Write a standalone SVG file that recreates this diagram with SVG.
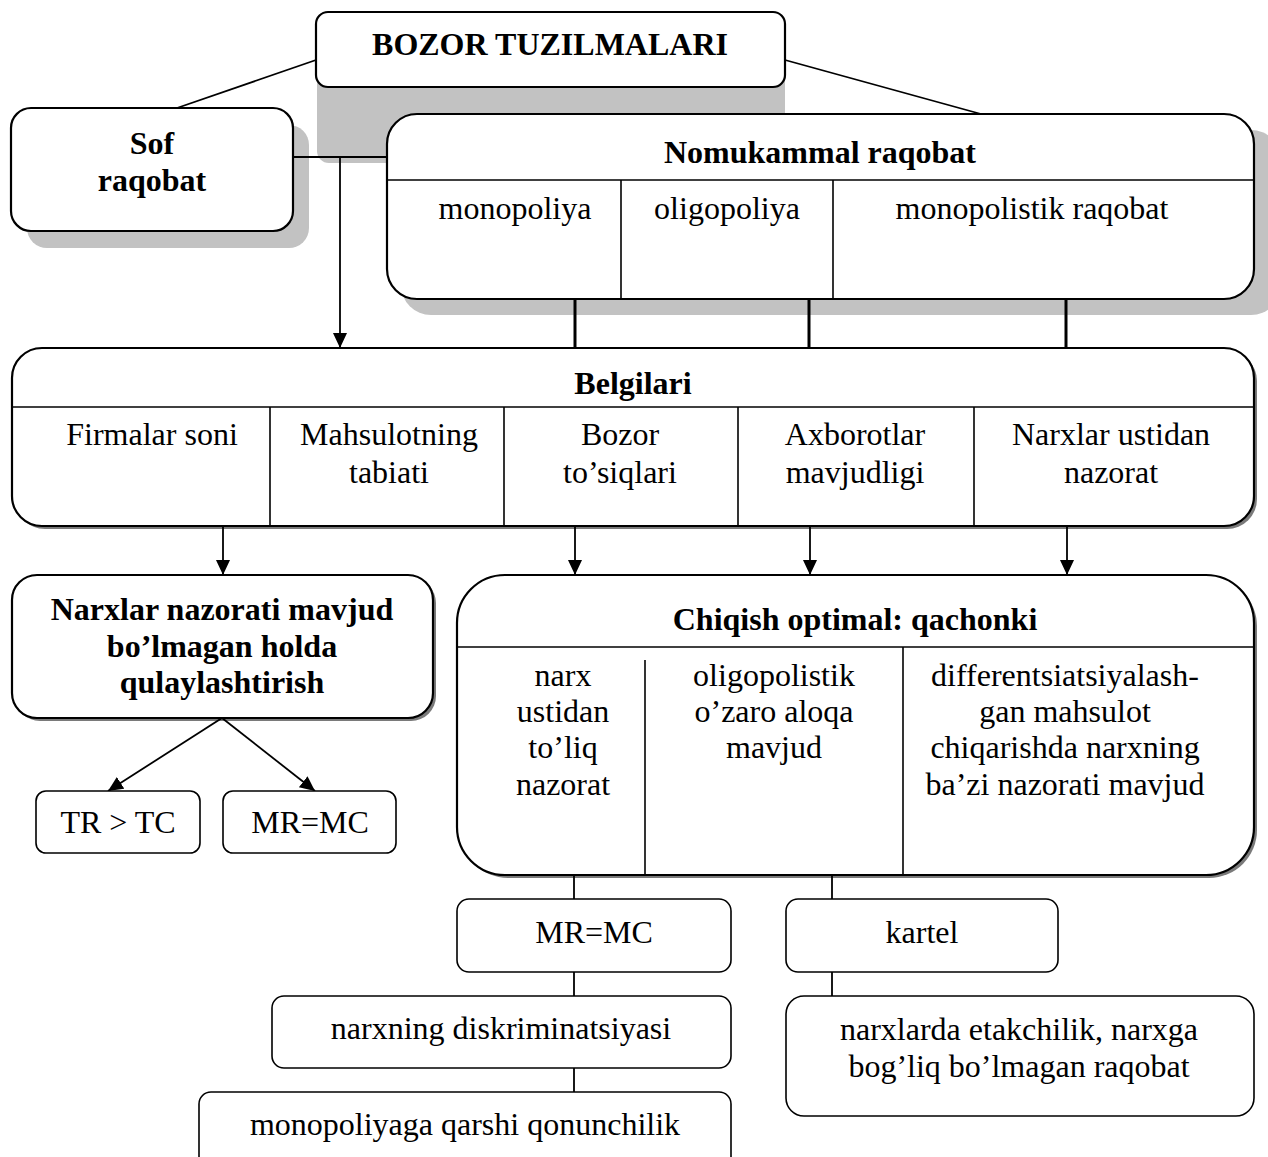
<svg xmlns="http://www.w3.org/2000/svg" width="1268" height="1157" viewBox="0 0 1268 1157">
<style>
text{font-family:"Liberation Serif","Times New Roman",serif;font-size:32px;fill:#000;text-anchor:middle}
.b{font-weight:bold}
.box{fill:#fff;stroke:#000;stroke-width:2.2}
.sbox{fill:#fff;stroke:#000;stroke-width:1.6}
.div{stroke:#000;stroke-width:1.6;fill:none}
.sh{fill:#c2c2c2}
.dsh{fill:#7a7a7a}
.ln{stroke:#000;stroke-width:1.8;fill:none}
.thk{stroke:#000;stroke-width:3;fill:none}
</style>
<defs>
<marker id="ah" markerUnits="userSpaceOnUse" markerWidth="16" markerHeight="16" refX="15" refY="7" orient="auto">
<path d="M0,0 L15,7 L0,14 z" fill="#000"/>
</marker>
</defs>

<!-- shadows -->
<g id="shadows">
<rect class="sh" x="317" y="60" width="468" height="103" rx="12"/>
<rect class="sh" x="27" y="125" width="282" height="123" rx="20"/>
<rect class="sh" x="401" y="130" width="880" height="185" rx="30"/>
<rect class="dsh" x="15" y="351" width="1242" height="178" rx="30"/>
<rect class="dsh" x="15" y="578" width="421" height="143" rx="25"/>
<rect class="dsh" x="460" y="578" width="797" height="300" rx="48"/>
</g>

<g id="connectors">
<line class="ln" x1="316" y1="60" x2="177" y2="108"/>
<line class="ln" x1="785" y1="60" x2="981" y2="114"/>
<line class="ln" x1="293" y1="157" x2="387" y2="157"/>
<line class="ln" x1="340" y1="157" x2="340" y2="348" marker-end="url(#ah)"/>
<line class="thk" x1="575" y1="299" x2="575" y2="348"/>
<line class="thk" x1="809" y1="299" x2="809" y2="348"/>
<line class="thk" x1="1066" y1="299" x2="1066" y2="348"/>
<line class="ln" x1="223" y1="526" x2="223" y2="575" marker-end="url(#ah)"/>
<line class="ln" x1="575" y1="526" x2="575" y2="575" marker-end="url(#ah)"/>
<line class="ln" x1="810" y1="526" x2="810" y2="575" marker-end="url(#ah)"/>
<line class="ln" x1="1067" y1="526" x2="1067" y2="575" marker-end="url(#ah)"/>
<line class="ln" x1="222" y1="718" x2="108" y2="791" marker-end="url(#ah)"/>
<line class="ln" x1="222" y1="718" x2="315" y2="791" marker-end="url(#ah)"/>
<line class="ln" x1="574" y1="875" x2="574" y2="899"/>
<line class="ln" x1="574" y1="972" x2="574" y2="996"/>
<line class="ln" x1="574" y1="1068" x2="574" y2="1092"/>
<line class="ln" x1="832" y1="875" x2="832" y2="899"/>
<line class="ln" x1="832" y1="972" x2="832" y2="996"/>
</g>

<g id="n-bozor">
<rect class="box" x="316" y="12" width="469" height="75" rx="12"/>
<text class="b" x="550" y="55">BOZOR TUZILMALARI</text>
</g>

<g id="n-sof">
<rect class="box" x="11" y="108" width="282" height="123" rx="20"/>
<text class="b" x="152" y="154">Sof</text>
<text class="b" x="152" y="191">raqobat</text>
</g>

<g id="n-nomukammal">
<rect class="box" x="387" y="114" width="867" height="185" rx="30" stroke-width="2.6"/>
<line class="div" x1="387" y1="180" x2="1254" y2="180"/>
<line class="div" x1="621" y1="180" x2="621" y2="299"/>
<line class="div" x1="833" y1="180" x2="833" y2="299"/>
<text class="b" x="820" y="163">Nomukammal raqobat</text>
<text x="515" y="219">monopoliya</text>
<text x="727" y="219">oligopoliya</text>
<text x="1032" y="219">monopolistik raqobat</text>
</g>

<g id="n-belgilari">
<rect class="box" x="12" y="348" width="1242" height="178" rx="30"/>
<line class="div" x1="12" y1="407" x2="1254" y2="407"/>
<line class="div" x1="270" y1="407" x2="270" y2="526"/>
<line class="div" x1="504" y1="407" x2="504" y2="526"/>
<line class="div" x1="738" y1="407" x2="738" y2="526"/>
<line class="div" x1="974" y1="407" x2="974" y2="526"/>
<text class="b" x="633" y="394">Belgilari</text>
<text x="152" y="445">Firmalar soni</text>
<text x="389" y="445">Mahsulotning</text>
<text x="389" y="483">tabiati</text>
<text x="620" y="445">Bozor</text>
<text x="620" y="483">to’siqlari</text>
<text x="855" y="445">Axborotlar</text>
<text x="855" y="483">mavjudligi</text>
<text x="1111" y="445">Narxlar ustidan</text>
<text x="1111" y="483">nazorat</text>
</g>

<g id="n-narxlar-nazorati">
<rect class="box" x="12" y="575" width="421" height="143" rx="25"/>
<text class="b" x="222" y="620">Narxlar nazorati mavjud</text>
<text class="b" x="222" y="657">bo’lmagan holda</text>
<text class="b" x="222" y="693">qulaylashtirish</text>
</g>

<g id="n-trtc">
<rect class="sbox" x="36" y="791" width="164" height="62" rx="10"/>
<text x="118" y="833">TR &gt; TC</text>
</g>

<g id="n-mrmc1">
<rect class="sbox" x="223" y="791" width="173" height="62" rx="10"/>
<text x="310" y="833">MR=MC</text>
</g>

<g id="n-chiqish">
<rect class="box" x="457" y="575" width="797" height="300" rx="48"/>
<line class="div" x1="457" y1="647" x2="1254" y2="647"/>
<line class="div" x1="645" y1="660" x2="645" y2="875"/>
<line class="div" x1="903" y1="647" x2="903" y2="875"/>
<text class="b" x="855" y="630">Chiqish optimal: qachonki</text>
<text x="563" y="686">narx</text>
<text x="563" y="722">ustidan</text>
<text x="563" y="758">to’liq</text>
<text x="563" y="795">nazorat</text>
<text x="774" y="686">oligopolistik</text>
<text x="774" y="722">o’zaro aloqa</text>
<text x="774" y="758">mavjud</text>
<text x="1065" y="686">differentsiatsiyalash-</text>
<text x="1065" y="722">gan mahsulot</text>
<text x="1065" y="758">chiqarishda narxning</text>
<text x="1065" y="795">ba’zi nazorati mavjud</text>
</g>

<g id="n-mrmc2">
<rect class="sbox" x="457" y="899" width="274" height="73" rx="12"/>
<text x="594" y="943">MR=MC</text>
</g>

<g id="n-kartel">
<rect class="sbox" x="786" y="899" width="272" height="73" rx="12"/>
<text x="922" y="943">kartel</text>
</g>

<g id="n-diskriminatsiya">
<rect class="sbox" x="272" y="996" width="459" height="72" rx="12"/>
<text x="501" y="1039">narxning diskriminatsiyasi</text>
</g>

<g id="n-qonunchilik">
<rect class="sbox" x="199" y="1092" width="532" height="80" rx="12"/>
<text x="465" y="1135">monopoliyaga qarshi qonunchilik</text>
</g>

<g id="n-etakchilik">
<rect class="sbox" x="786" y="996" width="468" height="120" rx="18"/>
<text x="1019" y="1040">narxlarda etakchilik, narxga</text>
<text x="1019" y="1077">bog’liq bo’lmagan raqobat</text>
</g>
</svg>
